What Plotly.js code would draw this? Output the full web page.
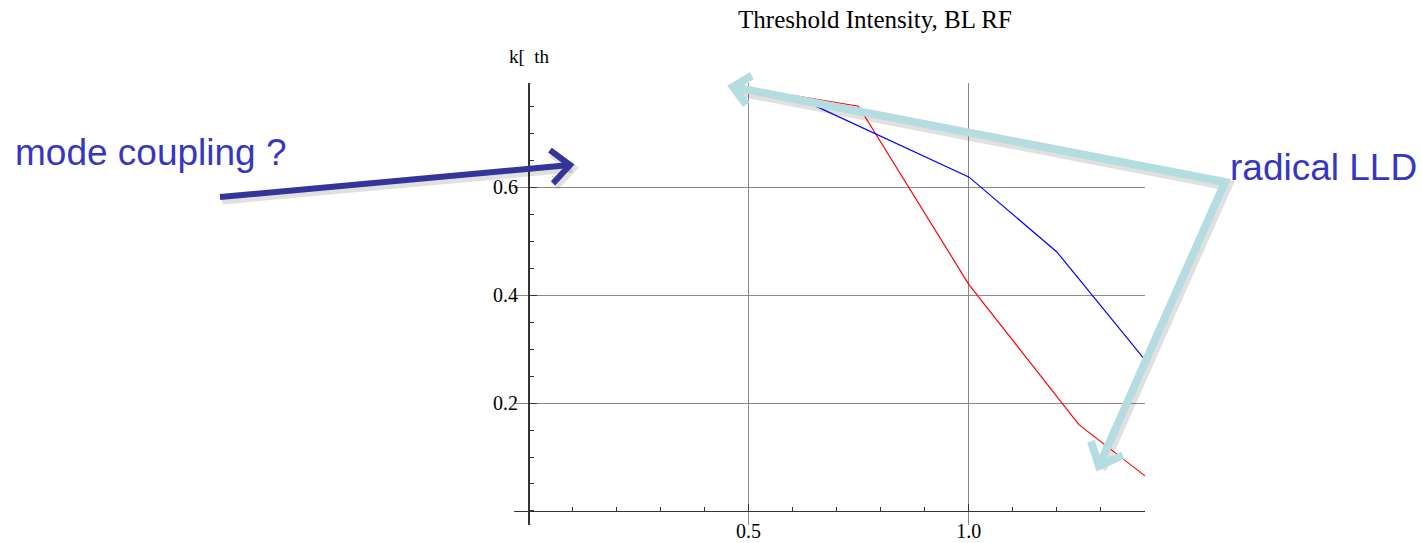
<!DOCTYPE html>
<html>
<head>
<meta charset="utf-8">
<script src="https://cdn.plot.ly/plotly-3.0.1.min.js"></script>
<style>html,body{margin:0;padding:0;background:#fff;}#chart{width:1422px;height:543px;}</style>
</head>
<body>
<div id="chart"></div>
<script>
// ---- data ----
const redX = [0.6, 0.75, 1.0, 1.25, 1.4];
const redY = [0.77, 0.75, 0.42, 0.16, 0.065];
const blueX = [0.6, 0.75, 1.0, 1.2, 1.4];
const blueY = [0.77, 0.713, 0.619, 0.48, 0.28];
const xTickVals = [0.5, 1.0];
const xTickText = ['0.5', '1.0'];
const yTickVals = [0.2, 0.4, 0.6];
const yTickText = ['0.2', '0.4', '0.6'];
const chartTitle = 'Threshold Intensity, BL RF';
const yLabel = 'k[\u00a0\u00a0th';
const noteLeft = 'mode coupling ?';
const noteRight = 'radical LLD';

// ---- layout geometry ----
const W = 1422, H = 543;
const L = 514, R = 1145, T = 83, B = 525;
const xRange = [-0.032, 1.4];
const yRange = [-0.026, 0.793];
const px = p => (p - L) / (R - L);
const py = p => (B - p) / (B - T);

function arrowShapes(tail, tip, color, width, arm, shadow) {
  const dx = tail[0] - tip[0], dy = tail[1] - tip[1];
  const len = Math.hypot(dx, dy);
  const ux = dx / len, uy = dy / len;
  const ang = 42 * Math.PI / 180;
  const rot = (a) => [ux * Math.cos(a) - uy * Math.sin(a), ux * Math.sin(a) + uy * Math.cos(a)];
  const a1 = rot(ang), a2 = rot(-ang);
  const p1 = [tip[0] + a1[0] * arm, tip[1] + a1[1] * arm];
  const p2 = [tip[0] + a2[0] * arm, tip[1] + a2[1] * arm];
  const out = [];
  const mk = (ox, oy, col, w) => {
    const f = (p) => px(p[0] + ox).toFixed(5) + ',' + py(p[1] + oy).toFixed(5);
    out.push({type: 'path', xref: 'paper', yref: 'paper', layer: 'above',
      path: 'M' + f(tail) + 'L' + f(tip), line: {color: col, width: w}});
    out.push({type: 'path', xref: 'paper', yref: 'paper', layer: 'above',
      path: 'M' + f(p1) + 'L' + f(tip) + 'L' + f(p2), line: {color: col, width: w}});
  };
  if (shadow) mk(2, 3, 'rgba(0,0,0,0.12)', width + 3);
  mk(0, 0, color, width);
  return out;
}

function polyArrowShapes(points, color, width, shadow) {
  const out = [];
  const mk = (ox, oy, col, w) => {
    const f = (p) => px(p[0] + ox).toFixed(5) + ',' + py(p[1] + oy).toFixed(5);
    out.push({type: 'path', xref: 'paper', yref: 'paper', layer: 'above',
      path: 'M' + points.map(f).join('L'), line: {color: col, width: w}});
  };
  if (shadow) mk(2, 3, 'rgba(0,0,0,0.12)', width + 3);
  mk(0, 0, color, width);
  return out;
}

const cyan = '#b5dde1';
const navy = '#34349a';
let shapes = [];
shapes = shapes.concat(polyArrowShapes([[733, 87], [1225, 182], [1099, 466]], cyan, 8, true));
shapes = shapes.concat(arrowShapes([1225, 182], [733, 87], cyan, 8, 22, true).slice(-1));
shapes = shapes.concat(arrowShapes([1225, 182], [1099, 466], cyan, 8, 26, true).slice(-1));
shapes = shapes.concat(arrowShapes([220, 197], [570, 165], navy, 6, 25, true));

const traces = [
  {x: redX, y: redY, type: 'scatter', mode: 'lines', line: {color: '#ff0000', width: 1.2}, hoverinfo: 'skip'},
  {x: blueX, y: blueY, type: 'scatter', mode: 'lines', line: {color: '#0000ff', width: 1.2}, hoverinfo: 'skip'}
];

const serif = 'Liberation Serif, Times New Roman, serif';
const sans = 'Liberation Sans, Arial, sans-serif';

const layout = {
  width: W, height: H,
  margin: {l: L, r: W - R, t: T, b: H - B, pad: 0},
  paper_bgcolor: '#ffffff', plot_bgcolor: '#ffffff',
  showlegend: false,
  title: {text: chartTitle, xref: 'container', yref: 'container', x: 875 / W, y: 1 - 19 / H,
    xanchor: 'center', yanchor: 'middle', font: {family: serif, size: 25, color: '#000'}},
  xaxis: {
    range: xRange, anchor: 'free', position: (0 - yRange[0]) / (yRange[1] - yRange[0]),
    showline: true, linecolor: '#333', linewidth: 1.5,
    zeroline: false, showgrid: true, gridcolor: '#8a8a8a', gridwidth: 1,
    tickmode: 'array', tickvals: xTickVals, ticktext: xTickText,
    ticks: 'inside', ticklen: 7, tickwidth: 1, tickcolor: '#333',
    minor: {tickmode: 'linear', tick0: 0, dtick: 0.1, ticks: 'inside', ticklen: 4, tickwidth: 1, tickcolor: '#333', showgrid: false},
    tickfont: {family: serif, size: 20, color: '#000'},
    ticklabelstandoff: 2, fixedrange: true
  },
  yaxis: {
    range: yRange, anchor: 'free', position: (0 - xRange[0]) / (xRange[1] - xRange[0]),
    showline: true, linecolor: '#333', linewidth: 1.5,
    zeroline: false, showgrid: true, gridcolor: '#8a8a8a', gridwidth: 1,
    tickmode: 'array', tickvals: yTickVals, ticktext: yTickText,
    ticks: 'inside', ticklen: 7, tickwidth: 1, tickcolor: '#333',
    minor: {tickmode: 'linear', tick0: 0, dtick: 0.05, ticks: 'inside', ticklen: 4, tickwidth: 1, tickcolor: '#333', showgrid: false},
    tickfont: {family: serif, size: 20, color: '#000'},
    ticklabelstandoff: 6, fixedrange: true
  },
  shapes: shapes,
  annotations: [
    {text: yLabel, xref: 'paper', yref: 'paper', x: px(529), y: py(57), xanchor: 'center', yanchor: 'middle',
      showarrow: false, font: {family: serif, size: 19, color: '#000'}},
    {text: noteLeft, xref: 'paper', yref: 'paper', x: px(13), y: py(152), xanchor: 'left', yanchor: 'middle',
      showarrow: false, font: {family: sans, size: 37, color: '#3636c6'}},
    {text: noteRight, xref: 'paper', yref: 'paper', x: px(1228), y: py(167), xanchor: 'left', yanchor: 'middle',
      showarrow: false, font: {family: sans, size: 37, color: '#3636c6'}}
  ]
};

Plotly.newPlot('chart', traces, layout, {displayModeBar: false, staticPlot: true});
</script>
</body>
</html>
